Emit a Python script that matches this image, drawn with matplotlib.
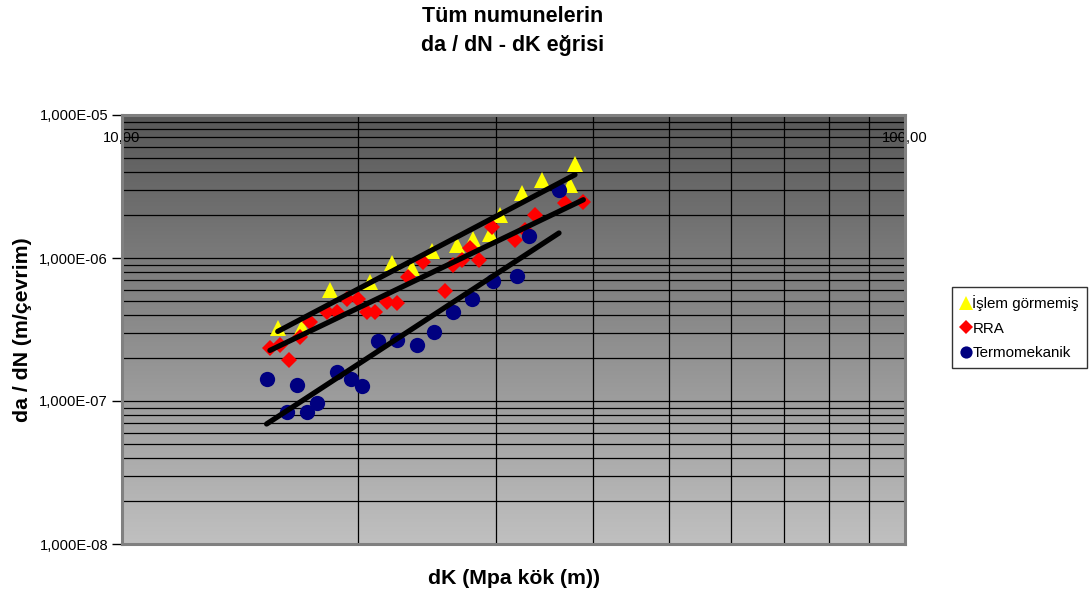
import numpy as np
import matplotlib
matplotlib.use("Agg")
import matplotlib.pyplot as plt
from matplotlib.ticker import LogLocator, NullFormatter, FixedLocator

plt.rcParams['font.family'] = ['Liberation Sans', 'DejaVu Sans']

# --- data (dK in MPa*sqrt(m), da/dN in m/cycle) ---
islem_dk = [15.81, 16.96, 18.44, 20.74, 22.11, 23.44, 24.86, 26.76, 28.10, 29.51,
            30.39, 32.39, 34.36, 37.34, 37.89]
islem_dadn = [3.23e-7, 3.31e-7, 5.97e-7, 6.80e-7, 9.18e-7, 8.47e-7, 1.12e-6, 1.23e-6,
              1.35e-6, 1.47e-6, 2.00e-6, 2.83e-6, 3.51e-6, 3.24e-6, 4.54e-6]

rra_dk = [15.45, 15.91, 16.36, 16.88, 17.39, 18.26, 18.80, 19.36, 20.03, 20.53,
          21.04, 21.78, 22.47, 23.21, 24.26, 25.85, 26.49, 27.15, 27.83, 28.60,
          29.66, 31.76, 32.71, 33.69, 36.80, 38.83]
rra_dadn = [2.34e-7, 2.46e-7, 1.94e-7, 2.82e-7, 3.59e-7, 4.17e-7, 4.21e-7, 5.17e-7,
            5.17e-7, 4.21e-7, 4.21e-7, 4.95e-7, 4.82e-7, 7.40e-7, 9.42e-7, 5.88e-7,
            8.93e-7, 9.68e-7, 1.17e-6, 9.68e-7, 1.66e-6, 1.34e-6, 1.57e-6, 2.00e-6,
            2.41e-6, 2.48e-6]

termo_dk = [15.30, 16.23, 16.72, 17.21, 17.73, 18.80, 19.61, 20.27, 21.21, 22.47,
            23.79, 25.05, 26.45, 28.03, 29.80, 31.92, 33.13, 36.15]
termo_dadn = [1.42e-7, 8.34e-8, 1.29e-7, 8.34e-8, 9.64e-8, 1.60e-7, 1.42e-7, 1.27e-7,
              2.63e-7, 2.67e-7, 2.45e-7, 3.04e-7, 4.21e-7, 5.17e-7, 6.91e-7, 7.48e-7,
              1.43e-6, 2.99e-6]

series_names = ["İşlem görmemiş", "RRA", "Termomekanik"]
x_tick_values = [10, 100]
x_tick_labels = ["10,00", "100,00"]
y_tick_values = [1e-8, 1e-7, 1e-6, 1e-5]
y_tick_labels = ["1,000E-08", "1,000E-07", "1,000E-06", "1,000E-05"]

W, H = 1091, 593
fig = plt.figure(figsize=(W / 100, H / 100), dpi=100)
fig.patch.set_facecolor("white")
ax = fig.add_axes([122 / W, 1 - 544 / H, (905 - 122) / W, (544 - 115) / H])

ax.set_xscale("log")
ax.set_yscale("log")
ax.set_xlim(10, 100)
ax.set_ylim(1e-8, 1e-5)

# gradient background
grad = np.linspace(0, 1, 256).reshape(-1, 1)
c_top = np.array([0x58, 0x58, 0x58]) / 255
c_bot = np.array([0xc0, 0xc0, 0xc0]) / 255
img = c_top[None, None, :] * (1 - grad[:, :, None]) + c_bot[None, None, :] * grad[:, :, None]
ax.imshow(img, extent=[0, 1, 0, 1], transform=ax.transAxes, aspect="auto", zorder=0)
ax.set_facecolor("#a0a0a0")

# grid
ax.xaxis.set_major_locator(FixedLocator(x_tick_values))
ax.xaxis.set_minor_locator(LogLocator(base=10, subs=np.arange(2, 10)))
ax.xaxis.set_minor_formatter(NullFormatter())
ax.yaxis.set_major_locator(FixedLocator(y_tick_values))
ax.yaxis.set_minor_locator(LogLocator(base=10, subs=np.arange(2, 10), numticks=20))
ax.yaxis.set_minor_formatter(NullFormatter())
ax.grid(True, which="both", color="black", linewidth=0.9, zorder=1)
ax.set_axisbelow(True)

ax.set_xticklabels(x_tick_labels)
ax.set_yticklabels(y_tick_labels)
ax.tick_params(axis="x", which="both", bottom=False, top=False,
               labelbottom=False, labeltop=True, pad=-25, labelsize=10.6)
ax.tick_params(axis="y", which="major", direction="out", length=7, width=1,
               color="black", labelsize=10.6, pad=3)
ax.tick_params(axis="y", which="minor", left=False)

for s in ["top", "right", "bottom", "left"]:
    ax.spines[s].set_color("#808080")
    ax.spines[s].set_linewidth(2.2)

# markers
ax.plot(islem_dk, islem_dadn, linestyle="none", marker="^", color="#FFFF00",
        markersize=12, markeredgewidth=0, label=series_names[0], zorder=3)
ax.plot(rra_dk, rra_dadn, linestyle="none", marker="D", color="#FF0000",
        markersize=8.5, markeredgewidth=0, label=series_names[1], zorder=3)
ax.plot(termo_dk, termo_dadn, linestyle="none", marker="o", color="#000080",
        markersize=11, markeredgewidth=0, label=series_names[2], zorder=3)

# power-law trend lines (least squares in log-log space)
for xs, ys in [(islem_dk, islem_dadn), (rra_dk, rra_dadn), (termo_dk, termo_dadn)]:
    lx, ly = np.log10(xs), np.log10(ys)
    b, a = np.polyfit(lx, ly, 1)
    xr = np.array([min(xs), max(xs)])
    ax.plot(xr, 10 ** (a + b * np.log10(xr)), color="black", linewidth=3.8,
            solid_capstyle="round", zorder=4)

ax.set_xlabel("dK (Mpa kök (m))", fontsize=15.3, fontweight="bold", labelpad=18)
ax.set_ylabel("da / dN (m/çevrim)", fontsize=15.3, fontweight="bold", labelpad=5)
fig.text(513 / W, 1 - 31 / H, "Tüm numunelerin\nda / dN - dK eğrisi",
         fontsize=15.5, fontweight="bold", ha="center", va="center",
         linespacing=1.5)

leg = fig.legend(loc="upper left", bbox_to_anchor=(952 / W, 1 - 287 / H),
                 frameon=True, fancybox=False, edgecolor="black", fontsize=10.9,
                 handlelength=0.7, handletextpad=0.1, borderpad=0.55,
                 labelspacing=0.68, borderaxespad=0, markerscale=0.8)
leg.get_frame().set_linewidth(1)

fig.savefig("out.png", dpi=100)
